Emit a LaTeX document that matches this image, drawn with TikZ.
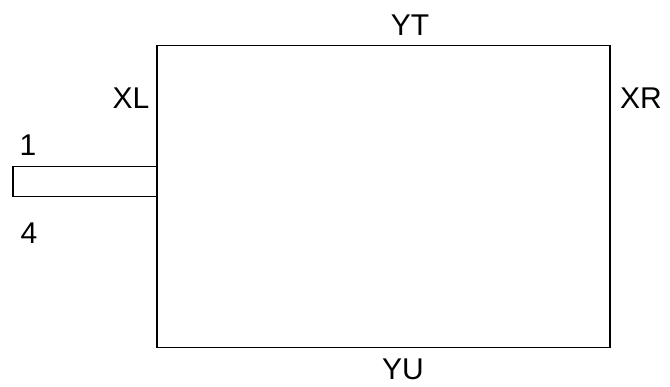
\documentclass[tikz,border=0pt]{standalone}
\usepackage{fontspec}
\setmainfont{Liberation Sans}
\begin{document}
\begin{tikzpicture}[x=1pt,y=-1pt,
  lbl/.style={anchor=base,inner sep=0pt,font=\fontsize{30}{34}\selectfont},
  box/.style={draw,line width=1.5pt,inner sep=0pt,anchor=north west}]
\useasboundingbox (0,0) rectangle (670,387);
\node[box,minimum width=453pt,minimum height=302pt] (main) at (156,45) {};
\node[box,minimum width=144pt,minimum height=30pt] (stub) at (12,166) {};
\node[lbl] (yt) at (410,36) {YT};
\node[lbl] (xl) at (131,109) {XL};
\node[lbl] (xr) at (641,109) {XR};
\node[lbl] (one) at (28,156) {1};
\node[lbl] (four) at (29,244) {4};
\node[lbl] (yu) at (403,380) {YU};
\end{tikzpicture}
\end{document}
